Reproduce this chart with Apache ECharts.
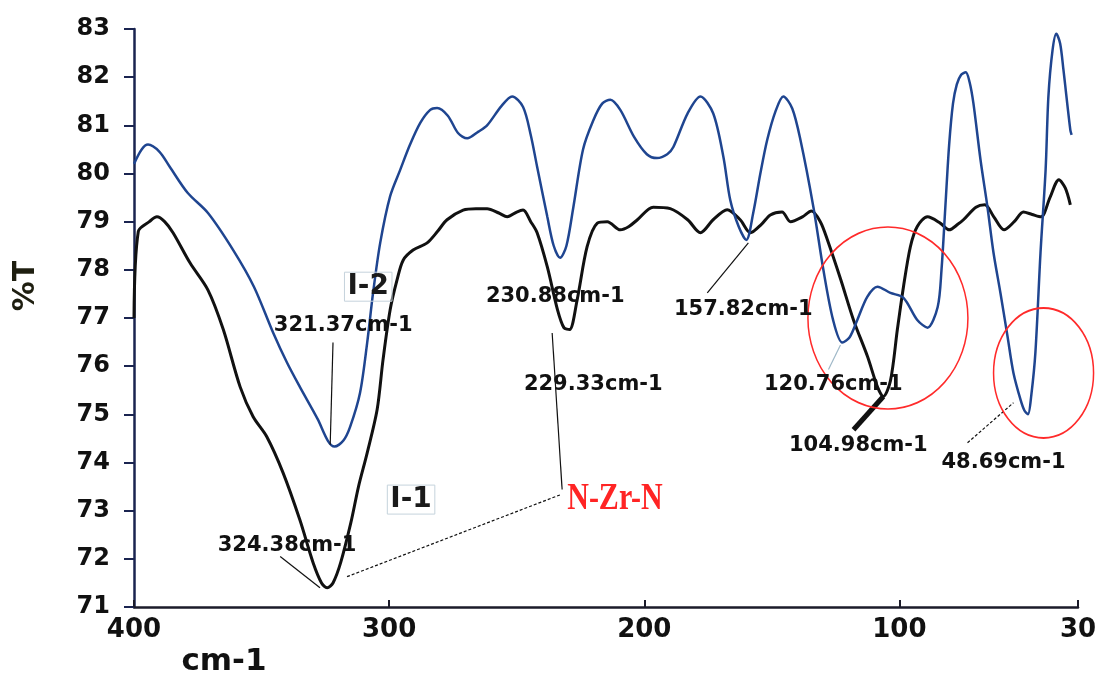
<!DOCTYPE html>
<html>
<head>
<meta charset="utf-8">
<title>Far-IR spectra I-1 / I-2</title>
<script src="https://cdn.jsdelivr.net/npm/echarts@6/dist/echarts.min.js"></script>
<style>
  html, body { margin: 0; padding: 0; background: #fff; }
  #chart { width: 1101px; height: 678px; }
</style>
</head>
<body>
<div id="chart"></div>
<script>
// tick labels
const xTicks = [400, 300, 200, 100, 30]
const yTicks = [71, 72, 73, 74, 75, 76, 77, 78, 79, 80, 81, 82, 83]

// [wavenumber cm-1, %T]
const traceI1 = [
  [400, 77.0], [398.3, 78.8], [394, 79.0], [391, 79.1], [388, 79.0], [384.7, 78.77],
  [378, 78.14], [371, 77.58], [365, 76.76], [358.4, 75.57], [353.3, 74.95], [348, 74.54],
  [341.6, 73.79], [335, 72.81], [329.8, 71.92], [326.5, 71.5], [324.3, 71.4], [322, 71.5],
  [319, 71.92], [315, 72.75], [312, 73.5], [308.6, 74.2], [304.7, 75.1], [302.4, 76.13],
  [299.6, 77.17], [296.9, 77.79], [294.5, 78.2], [290.6, 78.41], [285.1, 78.56], [281, 78.8],
  [277.3, 79.04], [271, 79.24], [266, 79.27], [261.6, 79.27], [257, 79.18], [253.7, 79.1],
  [250, 79.2], [247.5, 79.24], [244.5, 79.0], [242, 78.77], [238, 78.06], [234, 77.17],
  [231.5, 76.8], [229.3, 76.76], [226.3, 77.38], [222.4, 78.48], [218.4, 78.97], [214.5, 79.0],
  [209.4, 78.83], [206, 78.9], [202.7, 79.04], [196.5, 79.3], [189.8, 79.27], [183, 79.04],
  [178, 78.77], [173, 79.04], [167.5, 79.25], [162.4, 79.04], [158.4, 78.77], [154, 78.95],
  [150.6, 79.14], [146, 79.2], [142.7, 79.0], [138, 79.1], [134.5, 79.22], [131, 79.0],
  [128.2, 78.62], [123, 77.8], [118, 76.96], [112.5, 76.2], [108.6, 75.57], [106.3, 75.37],
  [103.5, 75.7], [100.8, 76.76], [98.4, 77.65], [95.7, 78.48], [93, 78.9], [89, 79.1],
  [84, 78.97], [80.5, 78.83], [77, 78.95], [74.9, 79.04], [70, 79.3], [66.5, 79.35],
  [63, 79.1], [59, 78.83], [55, 79.0], [51.4, 79.2], [48, 79.15], [44.5, 79.1],
  [41, 79.5], [37.5, 79.87], [35, 79.7], [33, 79.35]
]

const traceI2 = [
  [400, 80.2], [397, 80.5], [394.5, 80.6], [390, 80.45], [386, 80.14], [379, 79.6],
  [371, 79.18], [361, 78.4], [353, 77.65], [345.5, 76.7], [340, 76.07], [335, 75.57],
  [328, 74.9], [324, 74.45], [321.4, 74.33], [318, 74.45], [315.3, 74.74], [311.4, 75.45],
  [308.6, 76.49], [306.3, 77.52], [303.5, 78.56], [299.6, 79.53], [295.7, 80.07], [291.8, 80.6],
  [287.8, 81.05], [283.9, 81.32], [281.2, 81.36], [277, 81.2], [273, 80.84], [269.4, 80.73],
  [265, 80.87], [261.6, 81.0], [256, 81.4], [251.8, 81.6], [247.5, 81.38], [244.5, 80.8],
  [242, 80.14], [238, 79.1], [235.5, 78.5], [233, 78.25], [230.5, 78.5], [227.8, 79.3],
  [224, 80.5], [220, 81.1], [216.5, 81.45], [213.3, 81.53], [209.4, 81.32], [204, 80.76],
  [199, 80.4], [195, 80.32], [191, 80.4], [188.6, 80.55], [183, 81.25], [178, 81.6],
  [173, 81.25], [169, 80.35], [166.3, 79.45], [163, 78.9], [160, 78.62], [157.3, 79.18],
  [154.5, 80.0], [151.8, 80.7], [148.5, 81.3], [145.5, 81.6], [142, 81.35], [138.8, 80.7],
  [133.7, 79.3], [129.8, 78.0], [126, 76.96], [122.4, 76.49], [119.5, 76.6], [116.5, 76.96],
  [112.6, 77.44], [108.6, 77.65], [103.5, 77.52], [98.4, 77.42], [93, 76.96], [89, 76.8],
  [85, 77.23], [83.5, 78.0], [82, 79.3], [80.5, 80.6], [79, 81.45], [77.5, 81.85],
  [75.8, 82.05], [74, 82.1], [72.5, 81.9], [71, 81.46], [68.2, 80.28], [65.5, 79.31],
  [63.1, 78.35], [60.4, 77.52], [57.6, 76.61], [55.3, 75.86], [52.5, 75.3], [51, 75.08],
  [49.6, 75.0], [48.3, 75.4], [46.7, 76.28], [44.7, 78.35], [42.7, 80.07], [41.6, 81.6],
  [40, 82.55], [38.5, 82.9], [37, 82.7], [35.7, 82.15], [33, 80.9], [32.5, 80.8]
]

// peak labels, anchored in data coordinates (centre of the text)
const peakNotes = [
  { text: '321.37cm-1', at: [318.0, 76.84] },
  { text: '324.38cm-1', at: [340.0, 72.27] },
  { text: '230.88cm-1', at: [234.9, 77.44] },
  { text: '229.33cm-1', at: [220.0, 75.61] },
  { text: '157.82cm-1', at: [161.2, 77.17] },
  { text: '120.76cm-1', at: [125.9, 75.61] },
  { text: '104.98cm-1', at: [116.1, 74.35] },
  { text: '48.69cm-1', at: [59.2, 74.0] }
]
const sampleNotes = [
  { text: 'I-2', at: [308.2, 77.65] },
  { text: 'I-1', at: [291.4, 73.23] }
]
const leaderLines = [
  { from: [322.0, 76.49], to: [323.1, 74.37] },
  { from: [342.7, 72.05], to: [327.1, 71.40] },
  { from: [316.5, 71.63], to: [232.9, 73.33], dash: true },
  { from: [236.1, 76.69], to: [232.2, 73.44] },
  { from: [175.3, 77.52], to: [159.2, 78.56] },
  { from: [127.8, 75.93], to: [123.1, 76.44], faint: true },
  { from: [118.0, 74.68], to: [106.3, 75.37], heavy: true },
  { from: [73.3, 74.41], to: [55.3, 75.24], dash: true }
]
const rings = [
  { at: [104.5, 77.0], rx: 80, ry: 91 },
  { at: [43.5, 75.86], rx: 50, ry: 65 }
]
const bondNote = { text: 'N-Zr-N', at: [230.2, 73.23] }

const chart = echarts.init(document.getElementById('chart'))

const labelFont = {
  fontFamily: 'DejaVu Sans',
  fontWeight: 'bold',
  color: '#111'
}

const option = {
  animation: false,
  backgroundColor: '#fff',
  grid: {
    left: 134,
    right: 23,
    top: 29,
    bottom: 71,
    containLabel: false,
    outerBoundsMode: 'none'
  },
  xAxis: {
    type: 'value',
    min: 30,
    max: 400,
    inverse: true,
    splitLine: { show: false },
    axisLine: { lineStyle: { color: '#1b1b2a', width: 2.5 } },
    axisTick: {
      inside: true,
      length: 7,
      customValues: xTicks,
      lineStyle: { color: '#1b1b2a', width: 2 }
    },
    axisLabel: {
      customValues: xTicks,
      margin: 10,
      fontSize: 26,
      ...labelFont
    }
  },
  yAxis: {
    type: 'value',
    min: 71,
    max: 83,
    interval: 1,
    splitLine: { show: false },
    axisLine: { show: true, lineStyle: { color: '#1a2450', width: 2.5 } },
    axisTick: { show: true, length: 10, lineStyle: { color: '#1a2450', width: 2 } },
    axisLabel: {
      customValues: yTicks,
      margin: 24,
      fontSize: 24,
      ...labelFont
    }
  },
  series: [
    {
      name: 'I-1',
      type: 'line',
      data: traceI1,
      showSymbol: false,
      smooth: 0.3,
      lineStyle: { color: '#111111', width: 3 }
    },
    {
      name: 'I-2',
      type: 'line',
      data: traceI2,
      showSymbol: false,
      smooth: 0.3,
      lineStyle: { color: '#1f4590', width: 2.5 }
    }
  ]
}

chart.setOption(option)

const toPx = (pt) => chart.convertToPixel({ gridIndex: 0 }, pt)

const buildGraphics = () => {
  const els = []

  leaderLines.forEach((ln) => {
    const a = toPx(ln.from)
    const b = toPx(ln.to)
    els.push({
      type: 'line',
      shape: { x1: a[0], y1: a[1], x2: b[0], y2: b[1] },
      style: {
        stroke: ln.faint ? '#9fb8c8' : '#111',
        lineWidth: ln.heavy ? 5 : 1.2,
        lineDash: ln.dash ? [3, 2] : null
      },
      z: 10
    })
  })

  rings.forEach((r) => {
    const c = toPx(r.at)
    els.push({
      type: 'circle',
      x: c[0],
      y: c[1],
      scaleY: r.ry / r.rx,
      shape: { cx: 0, cy: 0, r: r.rx },
      style: { fill: 'none', stroke: '#ff2a2a', lineWidth: 1.5, strokeNoScale: true },
      z: 10
    })
  })

  peakNotes.forEach((n) => {
    const p = toPx(n.at)
    els.push({
      type: 'text',
      x: p[0],
      y: p[1],
      style: {
        text: n.text,
        fontFamily: 'DejaVu Sans',
        fontWeight: 'bold',
        fontSize: 21,
        fill: '#111',
        align: 'center',
        verticalAlign: 'middle'
      },
      z: 20
    })
  })

  sampleNotes.forEach((n) => {
    const p = toPx(n.at)
    els.push({
      type: 'text',
      x: p[0],
      y: p[1],
      style: {
        text: n.text,
        fontFamily: 'DejaVu Sans',
        fontWeight: 'bold',
        fontSize: 28,
        fill: '#1a1a1a',
        align: 'center',
        verticalAlign: 'middle',
        borderColor: '#c5d3dc',
        borderWidth: 1,
        padding: [1, 3, 0, 3]
      },
      z: 20
    })
  })

  const bp = toPx(bondNote.at)
  els.push({
    type: 'text',
    x: bp[0],
    y: bp[1],
    scaleY: 1.25,
    style: {
      text: bondNote.text,
      fontFamily: 'Liberation Serif',
      fontWeight: 'bold',
      fontSize: 30,
      fill: '#ff2424',
      align: 'left',
      verticalAlign: 'middle'
    },
    z: 20
  })

  // axis names
  els.push({
    type: 'text',
    x: 224,
    y: 662,
    style: {
      text: 'cm-1',
      fontFamily: 'DejaVu Sans',
      fontWeight: 'bold',
      fontSize: 31,
      fill: '#111',
      align: 'center',
      verticalAlign: 'middle'
    }
  })
  els.push({
    type: 'text',
    x: 26,
    y: 286,
    rotation: Math.PI / 2,
    style: {
      text: '%T',
      fontFamily: 'DejaVu Sans',
      fontWeight: 'bold',
      fontSize: 30,
      fill: '#1e1e10',
      align: 'center',
      verticalAlign: 'middle'
    }
  })

  return els
}

chart.setOption({ graphic: buildGraphics() })

window.addEventListener('resize', () => {
  chart.resize()
  chart.setOption({ graphic: buildGraphics() })
})
</script>
</body>
</html>
